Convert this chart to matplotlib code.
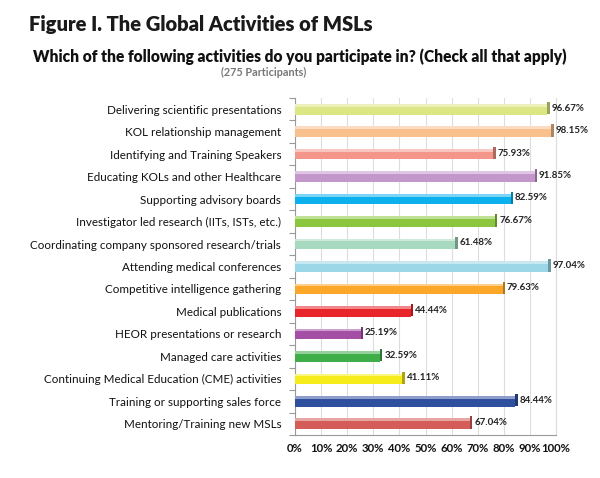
import matplotlib
matplotlib.use("Agg")
import matplotlib.pyplot as plt
import matplotlib.colors as mcolors
import numpy as np

categories = [
    "Delivering scientific presentations",
    "KOL relationship management",
    "Identifying and Training Speakers",
    "Educating KOLs and other Healthcare",
    "Supporting advisory boards",
    "Investigator led research (IITs, ISTs, etc.)",
    "Coordinating company sponsored research/trials",
    "Attending medical conferences",
    "Competitive intelligence gathering",
    "Medical publications",
    "HEOR presentations or research",
    "Managed care activities",
    "Continuing Medical Education (CME) activities",
    "Training or supporting sales force",
    "Mentoring/Training new MSLs",
]
values = [96.67, 98.15, 75.93, 91.85, 82.59, 76.67, 61.48, 97.04,
          79.63, 44.44, 25.19, 32.59, 41.11, 84.44, 67.04]
colors = ["#dde684", "#f8c08d", "#f4978a", "#c497cc", "#0cb0ec",
          "#8cc63e", "#a6d9bd", "#9bd7e6", "#fba82a", "#e8252a",
          "#a54ea5", "#3fae49", "#f6eb1b", "#2f4f9f", "#d45d5a"]
tick_values = list(range(0, 101, 10))
tick_labels = [f"{t}%" for t in tick_values]

title = "Figure I. The Global Activities of MSLs"
subtitle = "Which of the following activities do you participate in? (Check all that apply)"
participants = "(275 Participants)"

plt.rcParams['font.family'] = ['Lato', 'DejaVu Sans']

fig = plt.figure(figsize=(6.0, 4.78), dpi=100)
ax = fig.add_axes([0.4917, 0.09, 0.435, 0.705])

y = np.arange(len(categories))
h = 0.47

def darker(c, f=0.7):
    r, g, b = mcolors.to_rgb(c)
    return (r * f, g * f, b * f)

def lighter(c, f=0.45):
    r, g, b = mcolors.to_rgb(c)
    return (r + (1 - r) * f, g + (1 - g) * f, b + (1 - b) * f)

ax.barh(y, values, height=h, color=colors, edgecolor='none', zorder=3)
# top highlight (3D look)
ax.barh(y - h / 2 + 0.06, values, height=0.12,
        color=[lighter(c) for c in colors], edgecolor='none', zorder=4)
# end caps
ax.barh(y - 0.05, [0.9] * len(values), left=values, height=h + 0.08,
        color=[darker(c) for c in colors], edgecolor='none', zorder=4)

for yi, v in zip(y, values):
    ax.text(v + 1.6, yi - 0.05, f"{v:.2f}%", va='center', ha='left',
            fontsize=7, fontweight='bold', color='#222222', zorder=5)

ax.set_xlim(0, 100)
ax.set_ylim(len(categories) - 0.5, -0.5)
ax.set_xticks(tick_values)
ax.set_xticklabels(tick_labels, fontsize=8.2, fontweight='bold', color='#111111')
ax.set_yticks(y)
ax.set_yticklabels(categories, fontsize=8.4, color='#111111')
ax.tick_params(axis='y', length=0, pad=10)
ax.tick_params(axis='x', length=0, pad=6)
ax.set_yticks(np.arange(-0.5, len(categories), 1), minor=True)
ax.tick_params(axis='y', which='minor', length=4, color='#999999', width=0.8)

ax.grid(axis='x', color='#dddddd', linewidth=0.8, zorder=0)
ax.spines['top'].set_visible(False)
ax.spines['right'].set_color('#dddddd')
ax.spines['left'].set_color('#999999')
ax.spines['bottom'].set_color('#999999')
for s in ['left', 'bottom', 'right']:
    ax.spines[s].set_linewidth(0.8)

fig.text(0.048, 0.948, title, fontsize=14.5, fontweight='heavy', color='#1a1a1a',
         ha='left', va='center')
fig.text(0.5, 0.881, subtitle, fontsize=11.2, fontweight='heavy', color='#111111',
         ha='center', va='center')
fig.text(0.44, 0.849, participants, fontsize=7.8, fontweight='bold', color='#777777',
         ha='center', va='center')

fig.savefig("out.png", dpi=100)
